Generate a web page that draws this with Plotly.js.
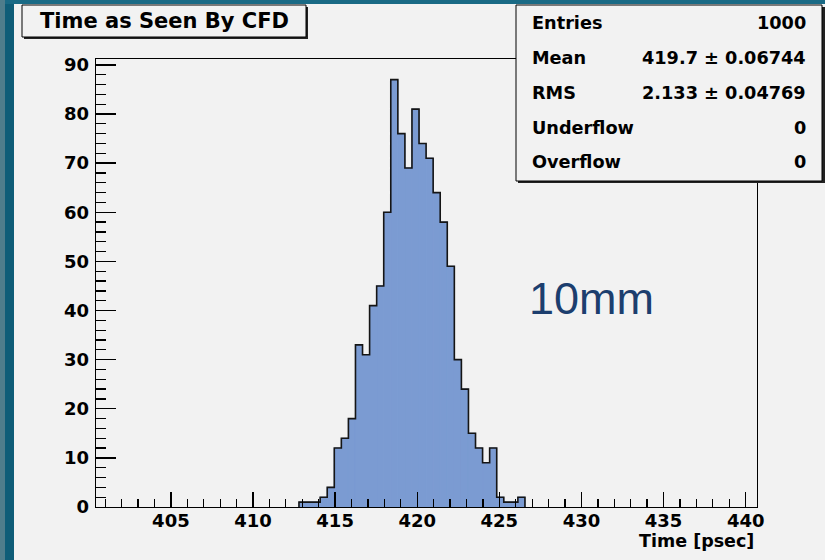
<!DOCTYPE html>
<html>
<head>
<meta charset="utf-8">
<script src="https://cdn.plot.ly/plotly-3.0.1.min.js"></script>
<style>html,body{margin:0;padding:0;background:#f2f2f2;}#chart{width:825px;height:560px;}</style>
</head>
<body>
<div id="chart"></div>
<script>
// ---- data ----
const binStart = 412.8;     // low edge of first filled bin [psec]
const binWidth = 0.43;      // bin width [psec]
const counts = [1,1,1,2,4,12,14,18,33,31,41,45,60,87,76,69,81,74,71,64,58,49,30,24,15,12,9,12,2,1,1,2];
const chartTitle = 'Time as Seen By CFD';
const xTitle = 'Time [psec]';
const statLabels = ['Entries','Mean','RMS','Underflow','Overflow'];
const statValues = ['1000','419.7 ± 0.06744','2.133 ± 0.04769','0','0'];
const noteText = '10mm';

// ---- derived ----
const centers = counts.map((c,i)=>binStart + binWidth*(i+0.5));
const edges = counts.map((c,i)=>binStart + binWidth*i);
const stepX = [binStart].concat(edges).concat([binStart + binWidth*counts.length]);
const stepY = [0].concat(counts).concat([0]);

// pixel -> paper helpers (layout only)
const L=96, R=757, T=59, B=507;
const px = p => (p-L)/(R-L);
const py = p => (B-p)/(B-T);

const fontB = {family:'DejaVu Sans', weight:'bold', color:'#000'};
const fill = '#7b9bd2';

const traces = [
  {type:'bar', x:centers, y:counts, width:binWidth,
   marker:{color:fill, line:{width:1, color:fill}}, hoverinfo:'skip'},
  {type:'scatter', mode:'lines', x:stepX, y:stepY,
   line:{shape:'hv', color:'#151515', width:1.6}, hoverinfo:'skip'}
];

const shapes = [
  // teal slide border
  {type:'rect', xref:'paper', yref:'paper', x0:px(0), x1:px(14), y0:py(560), y1:py(0), fillcolor:'#0f5d78', line:{width:0}, layer:'above'},
  {type:'rect', xref:'paper', yref:'paper', x0:px(0), x1:px(825), y0:py(4), y1:py(0), fillcolor:'#1a6a85', line:{width:0}, layer:'above'},
  {type:'rect', xref:'paper', yref:'paper', x0:px(0), x1:px(5), y0:py(560), y1:py(0), fillcolor:'#4f7d8c', line:{width:0}, layer:'above'},
  // title box shadow + box
  {type:'rect', xref:'paper', yref:'paper', x0:px(24), x1:px(308), y0:py(39), y1:py(7), fillcolor:'#222', line:{width:0}, layer:'above'},
  {type:'rect', xref:'paper', yref:'paper', x0:px(22), x1:px(306), y0:py(37), y1:py(5), fillcolor:'#f2f2f2', line:{color:'#000', width:1}, layer:'above'},
  // stats box shadow + box
  {type:'rect', xref:'paper', yref:'paper', x0:px(518), x1:px(825), y0:py(183), y1:py(7), fillcolor:'#222', line:{width:0}, layer:'above'},
  {type:'rect', xref:'paper', yref:'paper', x0:px(516), x1:px(822), y0:py(181), y1:py(5), fillcolor:'#f2f2f2', line:{color:'#000', width:1}, layer:'above'}
];

const annotations = [
  {xref:'paper', yref:'paper', x:px(164), y:py(21), xanchor:'center', yanchor:'middle', showarrow:false,
   text:chartTitle, font:Object.assign({size:21}, fontB)},
  {xref:'paper', yref:'paper', x:px(756), y:py(541), xanchor:'right', yanchor:'middle', showarrow:false,
   text:xTitle, font:Object.assign({size:17.5}, fontB)},
  {xref:'paper', yref:'paper', x:px(591), y:py(298), xanchor:'center', yanchor:'middle', showarrow:false,
   text:noteText, font:{family:'Liberation Sans', size:45, color:'#1c3e6e'}}
];
const rowY = [23, 58, 93, 128, 162];
statLabels.forEach((lab,i)=>{
  annotations.push({xref:'paper', yref:'paper', x:px(530), y:py(rowY[i]), xanchor:'left', yanchor:'middle', showarrow:false,
    text:lab, font:Object.assign({size:17.7}, fontB)});
  annotations.push({xref:'paper', yref:'paper', x:px(808), y:py(rowY[i]), xanchor:'right', yanchor:'middle', showarrow:false,
    text:statValues[i], font:Object.assign({size:17.7}, fontB)});
});

const layout = {
  width:825, height:560,
  margin:{l:L, r:825-R, t:T, b:560-B, pad:0},
  paper_bgcolor:'#f2f2f2', plot_bgcolor:'#f2f2f2',
  showlegend:false,
  xaxis:{range:[400.44, 440.69], tick0:0, dtick:5, ticks:'inside', ticklen:15, tickwidth:1.3, tickcolor:'#000',
         showline:true, linecolor:'#000', linewidth:1.3, mirror:true, showgrid:false, zeroline:false,
         tickfont:Object.assign({size:18}, fontB), ticklabelstandoff:-3,
         minor:{dtick:1, ticks:'inside', ticklen:8, tickcolor:'#000', showgrid:false}},
  yaxis:{range:[0, 91.2], tick0:0, dtick:10, ticks:'inside', ticklen:20, tickwidth:1.3, tickcolor:'#000',
         showline:true, linecolor:'#000', linewidth:1.3, mirror:true, showgrid:false, zeroline:false,
         tickfont:Object.assign({size:18}, fontB), ticklabelstandoff:2,
         minor:{dtick:2, ticks:'inside', ticklen:10, tickcolor:'#000', showgrid:false}},
  shapes:shapes, annotations:annotations
};

Plotly.newPlot('chart', traces, layout, {displayModeBar:false, staticPlot:true});
</script>
</body>
</html>
